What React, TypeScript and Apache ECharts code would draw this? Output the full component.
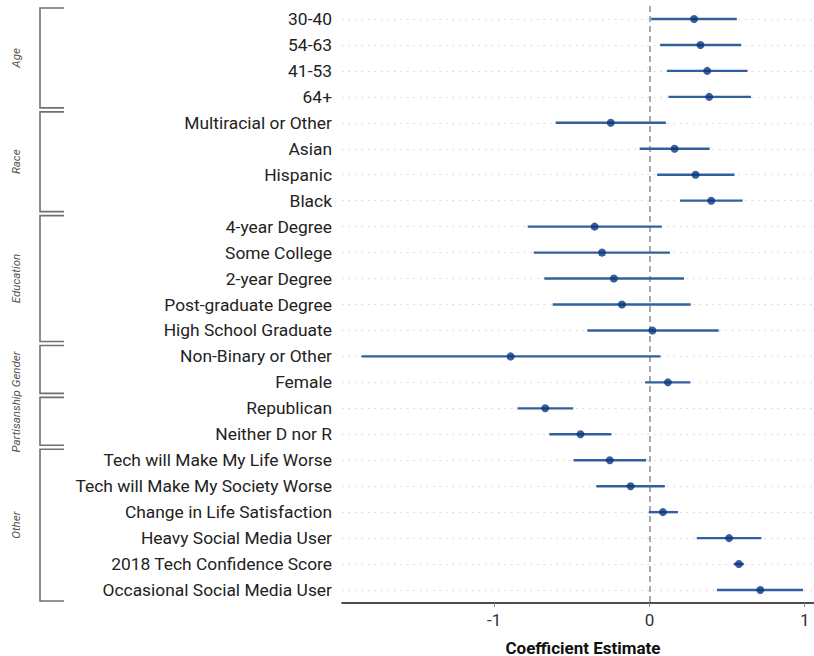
import React, { useEffect, useRef } from "react";
import * as echarts from "echarts";

const categories = [
  "30-40",
  "54-63",
  "41-53",
  "64+",
  "Multiracial or Other",
  "Asian",
  "Hispanic",
  "Black",
  "4-year Degree",
  "Some College",
  "2-year Degree",
  "Post-graduate Degree",
  "High School Graduate",
  "Non-Binary or Other",
  "Female",
  "Republican",
  "Neither D nor R",
  "Tech will Make My Life Worse",
  "Tech will Make My Society Worse",
  "Change in Life Satisfaction",
  "Heavy Social Media User",
  "2018 Tech Confidence Score",
  "Occasional Social Media User",
];

const estimates = [
  0.288, 0.329, 0.372, 0.385, -0.249, 0.162, 0.297, 0.398, -0.353, -0.305, -0.229, -0.177, 0.019,
  -0.894, 0.119, -0.671, -0.444, -0.255, -0.121, 0.087, 0.513, 0.576, 0.714,
];
const lower = [
  0.011, 0.069, 0.112, 0.123, -0.604, -0.063, 0.05, 0.197, -0.784, -0.745, -0.677, -0.623, -0.4,
  -1.855, -0.028, -0.849, -0.645, -0.489, -0.342, -0.004, 0.305, 0.543, 0.435,
];
const upper = [
  0.563, 0.591, 0.632, 0.654, 0.106, 0.388, 0.548, 0.6, 0.08, 0.132, 0.223, 0.266, 0.446, 0.071,
  0.264, -0.491, -0.245, -0.021, 0.099, 0.184, 0.721, 0.608, 0.989,
];

const groupNames = ["Age", "Race", "Education", "Gender", "Partisanship", "Other"];
const groupSizes = [4, 4, 5, 2, 2, 6];

const xTicks = [-1, 0, 1];
const xMin = -1.98;
const xMax = 1.06;

export default function App() {
  const ref = useRef<HTMLDivElement>(null);

  useEffect(() => {
    if (!ref.current) return;
    const chart = echarts.init(ref.current, null, { renderer: "svg" });
    const option: any = {
      animation: false,
      grid: {
        left: 342,
        right: 0,
        top: 6,
        height: 597,
        containLabel: false,
        outerBoundsMode: "none",
      },
      xAxis: {
        type: "value",
        min: xMin,
        max: xMax,
        name: "Coefficient Estimate",
        nameLocation: "middle",
        nameGap: 36,
        nameTextStyle: {
          fontFamily: "Roboto",
          fontWeight: "bold",
          fontSize: 17,
          color: "#111",
          padding: [0, 0, 0, 10],
        },
        axisLine: { show: true, onZero: false, lineStyle: { color: "#111", width: 1.5 } },
        axisTick: { show: true, customValues: xTicks, length: 4, lineStyle: { color: "#888" } },
        axisLabel: {
          customValues: xTicks,
          fontFamily: "Roboto",
          fontSize: 17,
          color: "#333",
          margin: 8,
          formatter: (v: number) => String(v),
        },
        splitLine: { show: false },
      },
      yAxis: {
        type: "category",
        data: categories,
        inverse: true,
        axisLine: { show: false },
        axisTick: { show: false },
        splitLine: { show: false },
        axisLabel: {
          fontFamily: "Roboto",
          fontSize: 17.4,
          color: "#222",
          margin: 10,
        },
      },
      series: [
        {
          type: "line",
          data: [],
          z: 1,
          silent: true,
          markLine: {
            z: 1,
            silent: true,
            symbol: "none",
            label: { show: false },
            animation: false,
            data: [
              ...categories.map((c) => ({
                yAxis: c,
                lineStyle: { type: [1.5, 5], color: "#d4d4d4", width: 1.2 },
              })),
              { xAxis: 0, lineStyle: { type: [6, 4], color: "#a0a0a0", width: 1.8 } },
            ],
          },
        },
        {
          type: "custom",
          z: 6,
          data: categories.map((c, i) => [lower[i], upper[i], i]),
          encode: { x: [0, 1], y: 2 },
          renderItem: (params: any, api: any) => {
            const p1 = api.coord([api.value(0), api.value(2)]);
            const p2 = api.coord([api.value(1), api.value(2)]);
            return {
              type: "line",
              shape: { x1: p1[0], y1: p1[1], x2: p2[0], y2: p2[1] },
              style: { stroke: "#32609f", lineWidth: 2.4 },
            };
          },
        },
        {
          type: "scatter",
          z: 7,
          symbol: "circle",
          symbolSize: 8,
          itemStyle: { color: "#083680" },
          data: categories.map((c, i) => [estimates[i], c]),
        },
      ],
    };
    chart.setOption(option);

    const centers = categories.map((c) => chart.convertToPixel({ yAxisIndex: 0 }, c) as number);
    const band = centers[1] - centers[0];
    const graphics: any[] = [];
    let start = 0;
    groupNames.forEach((name, g) => {
      const end = start + groupSizes[g] - 1;
      const top = centers[start] - band / 2 + 2;
      const bottom = centers[end] + band / 2 - 2;
      const lineStyle = { stroke: "#707070", lineWidth: 1.6 };
      graphics.push({
        type: "polyline",
        shape: {
          points: [
            [64, top],
            [40, top],
            [40, bottom],
            [64, bottom],
          ],
        },
        style: { ...lineStyle, fill: null },
      });
      graphics.push({
        type: "text",
        x: 16,
        y: (top + bottom) / 2,
        rotation: Math.PI / 2,
        style: {
          text: name,
          fontFamily: "Roboto",
          fontStyle: "italic",
          fontSize: 11.5,
          fill: "#555",
          align: "center",
          verticalAlign: "middle",
        },
      });
      start = end + 1;
    });
    chart.setOption({ graphic: graphics });

    return () => chart.dispose();
  }, []);

  return (
    <div
      ref={ref}
      style={{ position: "absolute", left: 0, top: 0, width: 814, height: 656, background: "#fff" }}
    />
  );
}
